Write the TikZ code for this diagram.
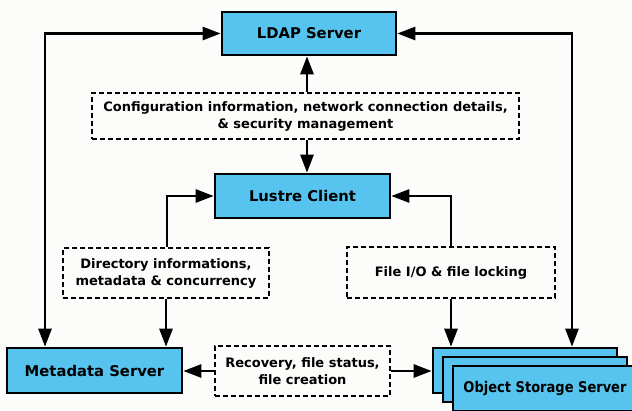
\documentclass[tikz,border=0pt]{standalone}
\usepackage{fontspec}
\setmainfont{DejaVu Sans}
\usetikzlibrary{arrows.meta}
\definecolor{boxblue}{RGB}{86,196,238}
\definecolor{bg}{RGB}{252,252,250}
\tikzset{
  srv/.style={draw=black, line width=2.6pt, fill=boxblue, inner sep=0pt, font=\bfseries\fontsize{14.8}{17}\selectfont},
  lbl/.style={draw=black, line width=2pt, dash pattern=on 5pt off 3pt, fill=bg, inner sep=0pt, align=center, font=\bfseries\fontsize{13}{17}\selectfont},
  conn/.style={line width=2.6pt, draw=black},
  tip/.style={-{Triangle[length=18pt,width=13pt]}},
  tips/.style={{Triangle[length=18pt,width=13pt]}-{Triangle[length=18pt,width=13pt]}},
}
\begin{document}
\begin{tikzpicture}[x=1pt,y=-1pt]
\fill[bg] (0,0) rectangle (632,411);
\useasboundingbox (0,0) rectangle (632,411);
% servers
\node[srv, minimum width=174pt, minimum height=43pt] (ldap) at (309,33.5) {LDAP Server};
\node[srv, minimum width=175pt, minimum height=44pt] (lustre) at (302.5,196) {Lustre Client};
\node[srv, minimum width=175pt, minimum height=45pt] (meta) at (94.5,370.5) {Metadata Server};
\node[srv, minimum width=184pt, minimum height=45pt] (oss1) at (525,370.5) {};
\node[srv, minimum width=184pt, minimum height=45pt] (oss2) at (535,379.5) {};
\node[srv, minimum width=184pt, minimum height=45pt] (oss3) at (545,388.5) {\scalebox{0.88}[1]{Object Storage Server}};
% labels
\node[lbl, minimum width=427pt, minimum height=46pt] (config) at (305.5,116) {Configuration information, network connection details,\\ \& security management};
\node[lbl, minimum width=206pt, minimum height=50pt] (dir) at (166,273) {Directory informations,\\ metadata \& concurrency};
\node[lbl, minimum width=208pt, minimum height=51pt] (fileio) at (451,272.5) {File I/O \& file locking};
\node[lbl, minimum width=175pt, minimum height=50pt] (recov) at (302.5,371) {Recovery, file status,\\ file creation};
% connectors
\coordinate (lc) at (45,33.5);
\coordinate (rc) at (572,33.5);
\draw[conn, tips] (ldap.west) -- (lc) -- (lc |- meta.north);
\draw[conn, tips] (ldap.east) -- (rc) -- (rc |- oss1.north);
\draw[conn, tip] (config.north -| 307,0) -- (307,0 |- ldap.south);
\draw[conn, tip] (config.south -| 307,0) -- (307,0 |- lustre.north);
\draw[conn, tip] (dir.north -| 167,0) |- (lustre.west);
\draw[conn, tip] (fileio.north) |- (lustre.east);
\draw[conn, tip] (dir.south -| 166,0) -- (166,0 |- meta.north);
\draw[conn, tip] (fileio.south) -- (fileio.south |- oss1.north);
\draw[conn, tip] (recov.west) -- (meta.east |- recov.west);
\draw[conn, tip] (recov.east) -- (oss1.west |- recov.east);
\end{tikzpicture}
\end{document}
